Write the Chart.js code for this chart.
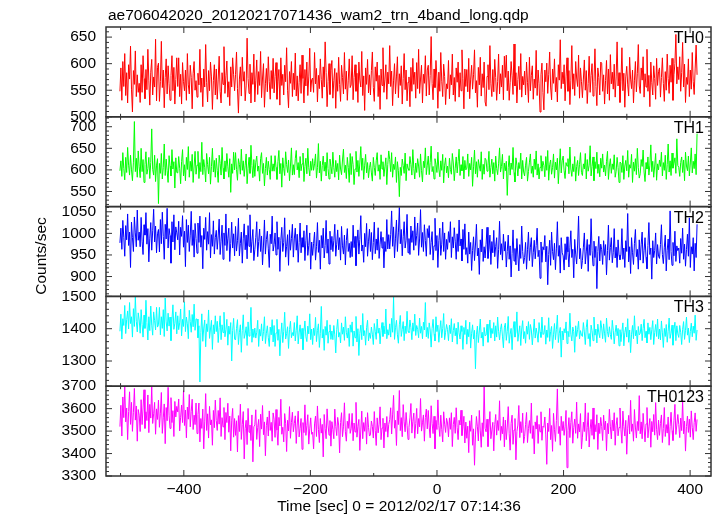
<!DOCTYPE html>
<html>
<head>
<meta charset="utf-8">
<script src="https://cdn.jsdelivr.net/npm/chart.js@4.4.1/dist/chart.umd.min.js"></script>
<style>
    html, body { margin: 0; padding: 0; background: #fff; }
    #wrap { width: 717px; height: 516px; }
</style>
</head>
<body>
<div id="wrap"><canvas id="chart" width="717" height="516"></canvas></div>
<script>
"use strict";

const plotTitle = "ae706042020_20120217071436_wam2_trn_4band_long.qdp";
const xTitle = "Time [sec] 0 = 2012/02/17 07:14:36";
const yTitle = "Counts/sec";
const bandNames = ["TH0", "TH1", "TH2", "TH3", "TH0123"];

// bin centres of the first and last point, sec from 07:14:36
const timeFirst = -501;
const timeLast = 411;

const th0Rate = [
    548,592,531,604,557,619,540,583,526,598,571,633,552,509,587,561,624,538,579,546,
    563,527,598,546,615,572,534,589,551,627,569,522,584,608,541,575,556,646,530,593,
    601,529,566,642,555,588,517,574,609,543,596,562,531,578,615,549,593,524,570,611,
    557,611,538,580,524,602,566,549,588,531,619,560,543,597,574,515,582,604,550,568,
    537,582,560,627,546,573,519,590,556,636,564,528,587,549,603,575,514,568,598,541,
    590,533,571,614,548,526,583,561,632,544,577,605,537,566,521,594,556,611,579,549,
    580,622,553,507,571,594,539,612,567,585,530,558,648,572,544,599,526,583,561,618,
    528,569,607,542,585,559,623,536,573,600,518,562,591,547,613,566,533,587,553,610,
    545,576,602,533,567,589,522,611,559,580,541,597,566,630,550,517,585,563,604,538,
    582,551,620,539,577,530,565,598,544,616,572,526,589,558,603,540,575,629,547,570,
    573,546,621,562,591,528,578,553,609,570,535,594,556,641,583,519,566,600,542,587,
    606,535,568,591,516,583,548,612,561,529,597,574,543,621,552,586,531,569,609,555,
    560,615,532,574,598,548,582,527,603,569,556,623,540,577,512,592,561,608,545,579,
    541,587,622,555,529,594,567,603,538,578,514,590,559,630,546,571,598,533,584,562,
    634,557,586,521,569,600,543,575,613,536,581,559,596,524,572,619,551,588,530,565,
    575,519,593,548,610,561,584,535,602,553,627,544,571,597,526,580,563,615,539,588,
    597,541,578,651,563,532,590,555,606,573,516,584,548,621,567,538,599,576,523,562,
    553,606,534,579,560,618,541,574,529,592,565,603,537,583,549,626,572,515,590,557,
    589,547,610,534,571,597,552,579,626,545,568,518,593,560,612,539,581,555,603,528,
    520,576,598,551,634,562,538,589,547,608,574,531,566,618,543,581,556,597,532,614,
    574,616,549,586,531,564,604,577,542,637,558,583,526,570,595,551,619,537,576,560,
    586,541,603,565,527,612,549,578,596,533,571,554,625,540,588,562,509,579,601,546,
    513,588,566,601,544,579,622,556,532,590,563,609,547,574,528,598,569,645,553,584,
    562,598,530,575,611,548,587,523,569,634,552,581,540,604,573,557,616,535,592,566,
    536,571,607,550,587,525,563,614,546,578,600,539,566,628,557,521,592,574,541,603,
    601,548,579,524,568,606,543,590,531,617,562,584,552,599,537,575,641,558,583,527,
    567,630,549,582,518,575,595,560,539,612,571,553,588,526,569,604,547,581,636,558,
    544,592,569,613,537,581,556,627,548,578,519,603,564,541,596,572,533,610,559,585,
    592,537,574,611,563,529,585,550,618,572,544,597,565,610,531,579,600,655,562,594,
    570,613,548,583,640,556,599,527,574,561,609,538,588,552,621,566,542,590,635,579
];

const th1Rate = [
    598,621,585,640,603,577,629,594,652,611,588,634,600,575,618,712,596,627,583,644,
    607,582,650,596,624,571,613,642,590,603,629,580,617,695,601,588,634,573,611,626,
    522,615,592,638,579,606,660,587,625,598,571,633,609,586,647,602,619,558,628,594,
    593,631,604,568,619,647,586,612,575,629,601,654,583,620,597,636,571,609,643,590,
    611,643,580,617,596,664,589,624,605,572,638,612,591,629,567,608,650,595,622,583,
    627,599,571,634,615,588,652,604,579,621,596,638,607,583,626,548,614,592,641,600,
    640,601,576,626,613,590,648,599,621,585,611,637,568,604,629,592,657,610,582,624,
    585,618,632,597,609,574,626,640,592,615,563,603,629,588,620,601,578,633,597,614,
    597,633,606,578,619,645,591,615,560,628,603,587,642,612,594,623,575,609,651,588,
    612,589,626,645,600,617,582,631,598,614,639,573,608,627,591,650,605,586,620,599,
    626,599,614,637,581,605,661,593,620,574,610,632,597,618,586,640,603,579,625,608,
    591,641,605,583,622,596,615,577,634,602,589,623,648,594,611,580,629,606,571,638,
    589,631,612,566,602,643,595,622,585,616,654,599,627,578,611,636,593,617,582,605,
    618,593,574,629,606,587,621,640,597,612,578,635,602,619,585,607,628,566,613,644,
    624,596,640,583,613,601,630,571,619,598,538,606,587,625,610,592,639,575,614,603,
    599,631,612,588,647,603,579,616,594,626,609,583,637,598,572,620,605,651,589,611,
    632,589,617,655,596,608,579,626,613,594,641,602,584,621,599,636,570,611,628,593,
    609,582,627,601,590,638,616,575,604,630,593,619,648,587,612,598,631,579,622,600,
    604,637,585,615,600,629,562,607,646,591,619,583,624,609,597,642,578,613,590,627,
    623,597,611,643,583,606,625,591,617,574,632,603,589,614,651,595,608,636,579,616,
    598,620,541,605,633,588,616,601,652,594,572,628,611,586,617,603,639,579,622,595,
    586,611,629,574,596,618,637,592,609,583,625,601,644,588,614,579,606,633,597,620,
    610,584,631,599,645,576,612,623,590,606,637,581,618,600,627,568,609,649,593,621,
    632,598,580,617,609,626,591,653,602,585,614,596,631,574,608,622,587,613,640,594,
    587,614,602,638,579,624,597,611,656,586,608,630,575,619,603,641,592,613,584,627,
    604,637,595,611,586,620,643,578,609,626,592,614,601,635,583,597,629,606,571,618,
    616,594,633,578,609,622,598,645,583,612,604,636,571,618,597,626,589,650,605,581,
    591,624,608,646,595,573,617,602,630,588,611,658,596,620,583,609,638,576,614,600,
    623,608,641,586,617,599,634,578,612,660,595,621,587,639,604,615,628,592,672,610,
    606,585,617,630,594,623,575,641,609,598,632,586,616,651,593,620,603,637,589,684
];

const th2Rate = [
    978,1012,963,1030,991,947,1018,985,1045,972,1003,921,1026,990,958,1038,1001,969,1054,984,
    1003,969,1037,982,951,1020,996,1048,975,1011,934,989,1025,961,1006,1056,980,1017,955,999,
    1009,957,1032,976,1049,993,940,1021,987,1058,966,1011,995,931,1027,980,1043,962,1015,1001,
    985,1028,950,1014,993,1041,968,1005,923,1032,979,1019,958,996,1051,972,1008,945,1023,988,
    954,1024,979,1040,968,995,918,1012,986,1037,961,1004,975,1048,943,997,970,1029,952,990,
    1007,963,994,1033,951,982,1019,940,1001,972,1045,960,989,1012,935,977,1026,966,999,948,
    1016,959,983,1035,948,977,1003,931,989,1022,962,996,941,1018,970,1043,955,982,1009,937,
    962,990,1027,946,981,1010,958,994,927,973,1031,952,986,1005,964,921,998,976,1040,959,
    974,1001,950,1027,963,991,912,984,1014,958,979,1036,945,970,997,926,1008,961,988,1021,
    945,987,1012,961,998,933,979,1024,955,990,968,1006,937,983,1019,949,972,1001,917,980,
    949,977,1003,938,969,1025,956,984,917,995,966,1012,943,972,1030,954,987,929,1005,962,
    993,958,984,1021,947,975,1008,962,990,938,1016,971,952,996,927,983,1011,958,977,944,
    981,946,1019,967,993,925,976,1008,952,986,1041,959,973,933,1000,969,1023,947,982,1010,
    958,1002,939,979,1026,953,987,961,1013,942,975,1004,966,991,920,981,958,1032,964,997,
    964,997,1052,970,1015,943,989,1031,958,1001,1060,976,1009,948,992,1027,966,984,1044,955,
    988,951,1017,979,1006,961,1038,972,995,1024,949,987,1055,968,1002,958,1020,983,947,1011,
    990,1018,951,979,1004,938,971,1035,960,995,921,983,1012,949,975,1026,958,1001,940,986,
    963,1004,979,1027,944,992,966,1013,982,940,999,958,1031,971,987,936,1009,963,1022,951,
    967,931,1003,952,979,914,960,992,937,973,1021,948,966,905,985,957,1010,935,969,943,
    975,1014,942,963,996,928,981,955,1007,946,970,990,919,962,1028,951,976,938,998,959,
    981,922,958,996,940,971,899,953,1008,936,965,927,988,950,913,974,942,1017,958,930,
    944,979,917,962,1003,937,968,990,923,955,984,941,972,1012,946,961,896,980,933,969,
    962,995,934,970,881,951,984,926,1003,958,939,977,916,964,1027,947,972,908,990,955,
    948,915,976,939,992,957,922,968,1006,944,963,897,986,952,929,973,1040,941,965,918,
    937,968,1001,929,957,986,912,974,949,1034,961,925,982,944,970,872,958,993,936,975,
    962,928,983,949,974,904,960,1019,938,967,990,932,955,1011,943,968,921,985,950,939,
    952,1011,940,966,921,983,958,1046,934,969,907,990,955,928,977,1009,946,963,917,985,
    938,975,1003,931,961,990,945,918,972,1025,951,966,894,983,944,960,1001,929,974,947,
    942,974,1020,951,930,968,996,913,961,987,939,1052,958,926,979,948,1005,935,971,960,
    966,931,988,954,1012,940,975,924,963,998,947,1036,921,969,952,990,913,977,944,1021
];

const th3Rate = [
    1392,1445,1368,1431,1410,1472,1385,1428,1455,1399,1481,1416,1437,1374,1462,1407,1498,1423,1390,1449,
    1427,1386,1459,1413,1374,1442,1401,1488,1419,1365,1437,1394,1470,1411,1380,1452,1425,1396,1466,1405,
    1412,1466,1381,1437,1401,1459,1376,1495,1421,1393,1448,1408,1436,1363,1427,1474,1398,1417,1452,1384,
    1440,1397,1418,1461,1378,1429,1407,1483,1391,1436,1415,1369,1457,1422,1389,1444,1406,1476,1395,1430,
    1430,1372,1409,1235,1388,1446,1361,1402,1427,1344,1415,1391,1458,1370,1399,1426,1336,1412,1384,1440,
    1391,1423,1357,1404,1440,1366,1412,1388,1451,1375,1397,1429,1349,1408,1383,1419,1300,1394,1432,1368,
    1365,1401,1428,1351,1389,1412,1327,1395,1443,1370,1384,1406,1348,1421,1377,1392,1466,1358,1399,1373,
    1402,1371,1389,1426,1345,1398,1377,1415,1362,1391,1437,1354,1386,1409,1372,1345,1405,1381,1428,1359,
    1410,1345,1387,1429,1364,1398,1316,1381,1418,1357,1392,1451,1368,1385,1406,1339,1397,1423,1372,1388,
    1378,1419,1362,1395,1440,1353,1387,1412,1368,1401,1335,1392,1424,1375,1360,1408,1384,1446,1366,1399,
    1351,1402,1379,1435,1360,1394,1415,1342,1386,1469,1371,1398,1333,1407,1380,1426,1355,1391,1412,1367,
    1393,1366,1410,1381,1325,1397,1429,1374,1388,1356,1418,1383,1405,1364,1437,1389,1371,1402,1345,1412,
    1389,1421,1346,1393,1372,1438,1359,1400,1317,1385,1411,1366,1447,1378,1394,1349,1403,1426,1362,1387,
    1370,1405,1383,1351,1416,1392,1367,1430,1386,1402,1353,1395,1419,1376,1408,1384,1461,1369,1397,1380,
    1415,1374,1432,1389,1498,1367,1403,1426,1381,1355,1412,1441,1376,1398,1422,1363,1408,1385,1454,1392,
    1388,1427,1403,1366,1418,1392,1445,1379,1410,1398,1372,1433,1386,1407,1369,1420,1396,1481,1375,1404,
    1370,1418,1396,1343,1401,1429,1384,1362,1437,1391,1411,1358,1396,1425,1372,1400,1447,1366,1389,1413,
    1397,1363,1411,1385,1431,1359,1394,1416,1378,1402,1352,1420,1387,1368,1409,1391,1336,1404,1382,1426,
    1352,1398,1375,1420,1340,1386,1412,1368,1395,1276,1381,1408,1357,1393,1430,1371,1389,1346,1404,1378,
    1380,1414,1358,1393,1427,1371,1401,1385,1419,1362,1409,1374,1436,1392,1365,1398,1415,1377,1341,1405,
    1417,1364,1392,1438,1355,1383,1401,1335,1396,1422,1374,1390,1452,1361,1387,1409,1348,1399,1425,1369,
    1391,1355,1408,1383,1422,1367,1413,1396,1350,1387,1430,1371,1402,1384,1358,1419,1390,1373,1436,1382,
    1384,1410,1352,1396,1373,1434,1361,1391,1407,1339,1381,1416,1366,1398,1442,1357,1386,1404,1312,1393,
    1365,1400,1387,1421,1354,1392,1375,1448,1383,1362,1405,1391,1327,1409,1376,1397,1423,1368,1394,1380,
    1376,1419,1390,1351,1403,1428,1369,1385,1345,1411,1394,1363,1436,1380,1399,1356,1414,1387,1372,1425,
    1402,1369,1415,1384,1358,1433,1391,1374,1406,1382,1367,1426,1395,1353,1389,1411,1378,1401,1347,1397,
    1360,1392,1418,1347,1388,1405,1374,1431,1358,1396,1326,1383,1410,1369,1440,1378,1395,1353,1407,1381,
    1386,1414,1363,1401,1429,1372,1392,1356,1418,1383,1404,1366,1397,1425,1351,1388,1413,1376,1430,1368,
    1399,1365,1424,1387,1342,1401,1376,1413,1358,1392,1433,1370,1386,1411,1349,1397,1420,1363,1409,1384,
    1373,1410,1389,1351,1398,1422,1367,1395,1436,1380,1402,1357,1391,1417,1375,1408,1386,1442,1364,1396
];

const th0123Rate = [
    3520,3615,3478,3652,3560,3698,3541,3603,3462,3587,3675,3530,3628,3499,3584,3690,3549,3612,3455,3596,
    3571,3498,3640,3529,3603,3684,3512,3586,3547,3661,3493,3619,3558,3700,3534,3577,3628,3486,3599,3552,
    3638,3517,3580,3672,3490,3559,3621,3444,3605,3546,3695,3571,3512,3649,3538,3591,3476,3632,3563,3610,
    3585,3643,3501,3562,3616,3538,3680,3525,3594,3470,3607,3553,3663,3519,3588,3642,3507,3571,3529,3625,
    3489,3574,3625,3452,3556,3512,3598,3421,3541,3667,3503,3577,3469,3610,3528,3550,3437,3592,3515,3638,
    3547,3503,3592,3531,3648,3476,3560,3519,3605,3462,3583,3538,3624,3495,3567,3412,3549,3601,3473,3556,
    3481,3546,3407,3569,3498,3620,3463,3530,3587,3376,3512,3548,3440,3601,3495,3527,3458,3572,3363,3519,
    3528,3595,3463,3517,3552,3431,3575,3509,3614,3484,3541,3390,3526,3563,3478,3590,3503,3539,3455,3581,
    3553,3472,3596,3504,3437,3561,3523,3642,3486,3517,3452,3578,3535,3409,3548,3501,3609,3468,3539,3584,
    3497,3534,3568,3445,3527,3589,3474,3512,3556,3419,3538,3493,3617,3481,3524,3573,3442,3510,3559,3486,
    3495,3421,3532,3567,3476,3612,3508,3449,3556,3491,3530,3385,3574,3512,3466,3599,3527,3482,3547,3433,
    3542,3507,3466,3598,3521,3480,3561,3527,3403,3538,3582,3475,3519,3626,3497,3455,3544,3512,3578,3490,
    3510,3579,3457,3536,3496,3628,3473,3521,3552,3414,3505,3589,3466,3538,3499,3561,3442,3582,3517,3478,
    3483,3545,3521,3469,3587,3503,3436,3559,3492,3531,3608,3462,3514,3557,3425,3536,3498,3565,3473,3530,
    3551,3604,3487,3572,3659,3513,3548,3436,3590,3529,3681,3502,3560,3475,3618,3541,3497,3583,3526,3463,
    3517,3559,3623,3491,3544,3580,3468,3533,3601,3488,3556,3519,3645,3500,3537,3572,3455,3561,3598,3510,
    3592,3518,3470,3613,3535,3489,3566,3421,3548,3507,3639,3524,3476,3571,3508,3452,3586,3531,3494,3557,
    3536,3474,3559,3508,3582,3431,3529,3561,3490,3604,3515,3462,3548,3527,3593,3480,3519,3566,3447,3540,
    3468,3522,3404,3546,3499,3571,3437,3510,3348,3483,3565,3519,3456,3592,3501,3428,3537,3476,3698,3512,
    3497,3553,3431,3518,3587,3466,3505,3539,3412,3528,3574,3482,3547,3503,3635,3459,3521,3488,3563,3430,
    3549,3462,3518,3609,3488,3415,3534,3571,3441,3505,3556,3372,3498,3527,3614,3471,3542,3493,3580,3446,
    3476,3530,3583,3449,3511,3547,3490,3625,3467,3524,3398,3541,3509,3569,3445,3530,3497,3586,3459,3522,
    3517,3563,3483,3352,3536,3498,3601,3462,3525,3410,3579,3506,3454,3547,3688,3489,3521,3437,3566,3502,
    3543,3481,3519,3592,3337,3502,3560,3471,3538,3586,3446,3515,3554,3490,3629,3468,3532,3496,3578,3421,
    3473,3540,3498,3625,3457,3515,3582,3429,3508,3552,3481,3603,3464,3529,3497,3573,3418,3536,3489,3561,
    3520,3458,3571,3506,3545,3413,3534,3488,3597,3522,3465,3549,3501,3582,3437,3526,3560,3479,3516,3603,
    3506,3446,3589,3521,3478,3548,3397,3513,3570,3487,3637,3499,3532,3455,3596,3518,3469,3543,3502,3658,
    3488,3541,3466,3579,3514,3452,3532,3605,3470,3519,3556,3428,3543,3497,3574,3482,3627,3506,3462,3549,
    3481,3534,3572,3449,3512,3605,3476,3529,3491,3563,3437,3520,3584,3502,3458,3546,3619,3485,3527,3574,
    3529,3471,3558,3502,3636,3488,3545,3411,3521,3567,3494,3553,3473,3590,3517,3462,3538,3581,3499,3552
];

const fontFamily = '"Liberation Sans", Arimo, Helvetica, Arial, sans-serif';
const fontSize = 15.5;

// one stacked y axis per energy band, listed top to bottom
const panels = [
    {id: 'y0', name: bandNames[0], rate: th0Rate,    color: '#ff0000', min: 500,  max: 669,  step: 50,  minor: 10},
    {id: 'y1', name: bandNames[1], rate: th1Rate,    color: '#00ff00', min: 515,  max: 723,  step: 50,  minor: 10},
    {id: 'y2', name: bandNames[2], rate: th2Rate,    color: '#0000ff', min: 854,  max: 1062, step: 50,  minor: 10},
    {id: 'y3', name: bandNames[3], rate: th3Rate,    color: '#00ffff', min: 1222, max: 1500, step: 100, minor: 20},
    {id: 'y4', name: bandNames[4], rate: th0123Rate, color: '#ff00ff', min: 3300, max: 3700, step: 100, minor: 20}
];

const datasets = panels.map(p => {
    const dt = (timeLast - timeFirst) / (p.rate.length - 1);
    return {
        label: p.name,
        data: p.rate.map((v, i) => ({x: timeFirst + i * dt, y: v})),
        yAxisID: p.id,
        borderColor: p.color,
        borderWidth: 1,
        pointRadius: 0,
        tension: 0,
        fill: false
    };
});

const scales = {
    x: {
        type: 'linear',
        min: -523,
        max: 433,
        afterFit: (s) => { s.height = 40; },
        grid: {display: false, drawTicks: false},
        border: {display: false},
        ticks: {
            stepSize: 200,
            includeBounds: false,
            autoSkip: false,
            maxRotation: 0,
            padding: 4,
            color: '#000',
            font: {family: fontFamily, size: fontSize},
            callback: (v) => String(v).replace('-', '\u2212')
        }
    }
};

// left stacked boxes are laid out last-defined first, so add them bottom up
[...panels].reverse().forEach((p) => {
    scales[p.id] = {
        type: 'linear',
        position: 'left',
        stack: 'bands',
        stackWeight: 1,
        min: p.min,
        max: p.max,
        afterFit: (s) => { s.width = 106; },
        grid: {display: false, drawTicks: false},
        border: {display: false},
        ticks: {
            stepSize: p.step,
            includeBounds: false,
            autoSkip: false,
            padding: 10,
            color: '#000',
            font: {family: fontFamily, size: fontSize},
            callback: (v) => String(v)
        }
    };
});

function seg(ctx, x1, y1, x2, y2) {
    ctx.beginPath();
    ctx.moveTo(x1, y1);
    ctx.lineTo(x2, y2);
    ctx.stroke();
}

// qdp style frames with inward ticks, plus the labels
const qdpFrame = {
    id: 'qdpFrame',
    afterDraw(chart) {
        const ctx = chart.ctx;
        const area = chart.chartArea;
        const xs = chart.scales.x;
        ctx.save();
        ctx.strokeStyle = '#333';

        panels.forEach((p) => {
            const ys = chart.scales[p.id];
            ctx.lineWidth = 1;
            for (let v = Math.ceil(p.min / p.minor) * p.minor; v <= p.max; v += p.minor) {
                const y = ys.getPixelForValue(v);
                const len = (v % p.step === 0) ? 6 : 3;
                seg(ctx, area.left, y, area.left + len, y);
                seg(ctx, area.right, y, area.right - len, y);
            }
            for (let t = -500; t <= 400; t += 100) {
                const x = xs.getPixelForValue(t);
                const len = (t % 200 === 0) ? 6 : 3;
                seg(ctx, x, ys.top, x, ys.top + len);
                seg(ctx, x, ys.bottom, x, ys.bottom - len);
            }
            ctx.lineWidth = 1.5;
            ctx.strokeRect(area.left, ys.top, area.right - area.left, ys.bottom - ys.top);
        });

        ctx.fillStyle = '#000';
        ctx.font = fontSize + 'px ' + fontFamily;
        ctx.textBaseline = 'alphabetic';

        ctx.textAlign = 'left';
        ctx.fillText(plotTitle, 108, 20);

        ctx.textAlign = 'center';
        ctx.fillText(xTitle, 399, 511);

        ctx.font = '16px ' + fontFamily;
        ctx.textAlign = 'right';
        panels.forEach((p) => {
            ctx.fillText(p.name, 704, chart.scales[p.id].top + 16);
        });

        ctx.font = fontSize + 'px ' + fontFamily;
        ctx.translate(46, 256);
        ctx.rotate(-Math.PI / 2);
        ctx.textAlign = 'center';
        ctx.fillText(yTitle, 0, 0);
        ctx.restore();
    }
};

new Chart(document.getElementById('chart'), {
    type: 'line',
    data: {datasets: datasets},
    options: {
        responsive: false,
        animation: false,
        devicePixelRatio: 1,
        layout: {padding: {top: 27, right: 6, left: 0, bottom: 0}},
        plugins: {legend: {display: false}, tooltip: {enabled: false}, title: {display: false}},
        scales: scales
    },
    plugins: [qdpFrame]
});
</script>
</body>
</html>
